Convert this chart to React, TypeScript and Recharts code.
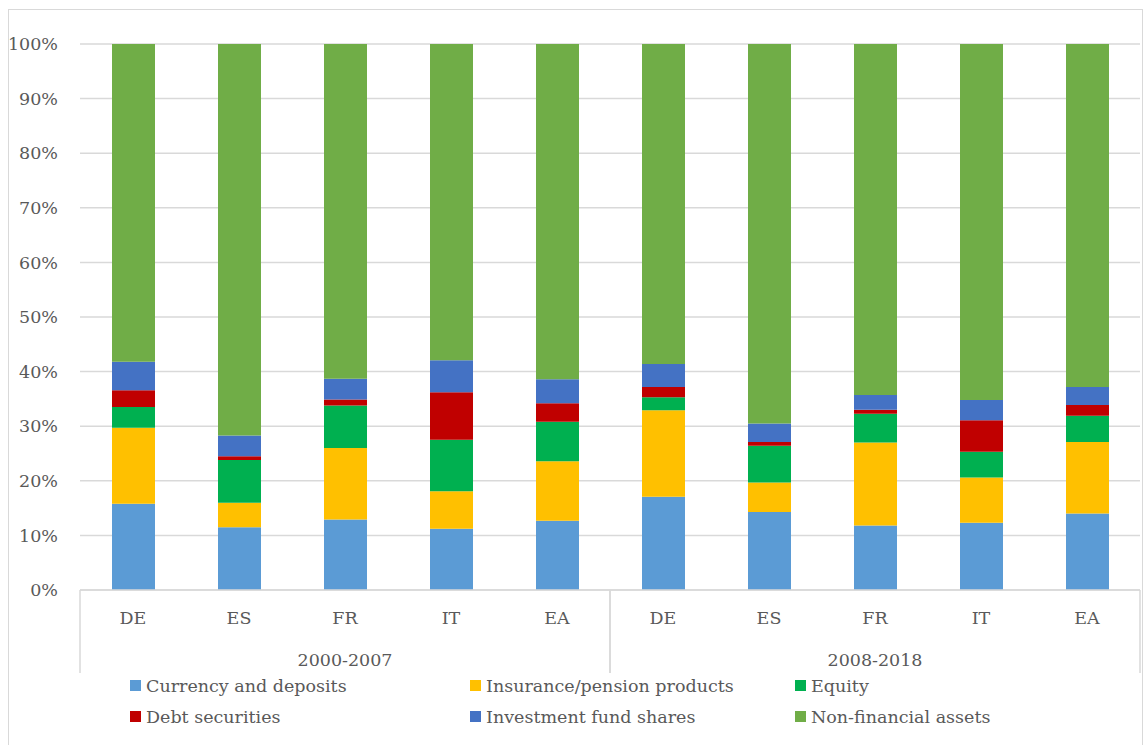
import React from 'react';
import { BarChart, Bar, XAxis, YAxis, CartesianGrid, Legend } from 'recharts';

const categories = ['DE', 'ES', 'FR', 'IT', 'EA', 'DE', 'ES', 'FR', 'IT', 'EA'];
const periods = ['2000-2007', '2008-2018'];
const currencyDeposits = [15.8, 11.5, 12.9, 11.2, 12.7, 17.1, 14.3, 11.8, 12.3, 14.0];
const insurancePension = [13.9, 4.5, 13.1, 6.9, 10.9, 15.8, 5.4, 15.2, 8.3, 13.1];
const equity = [3.8, 7.8, 7.8, 9.4, 7.2, 2.4, 6.7, 5.3, 4.7, 4.8];
const debtSecurities = [3.1, 0.7, 1.1, 8.7, 3.4, 1.9, 0.7, 0.7, 5.8, 2.0];
const investmentFunds = [5.2, 3.8, 3.8, 5.9, 4.4, 4.2, 3.4, 2.7, 3.7, 3.3];
const nonFinancial = [58.2, 71.7, 61.3, 57.9, 61.4, 58.6, 69.5, 64.3, 65.2, 62.8];
const yTicks = [0, 10, 20, 30, 40, 50, 60, 70, 80, 90, 100];

const seriesNames = [
  'Currency and deposits',
  'Insurance/pension products',
  'Equity',
  'Debt securities',
  'Investment fund shares',
  'Non-financial assets',
];
const seriesKeys = ['cd', 'ins', 'eq', 'debt', 'inv', 'nfa'];
const seriesColors = ['#5B9BD5', '#FFC000', '#00B050', '#C00000', '#4472C4', '#70AD47'];

const data = categories.map((c, i) => ({
  key: `${c}-${i}`,
  cd: currencyDeposits[i],
  ins: insurancePension[i],
  eq: equity[i],
  debt: debtSecurities[i],
  inv: investmentFunds[i],
  nfa: nonFinancial[i],
}));

const W = 1145;
const H = 745;
const FONT = '"DejaVu Serif", "Liberation Serif", serif';
const FS = 17.5;
const TEXT = '#595959';
const GRID = '#d9d9d9';
const MARGIN = { top: 44, right: 5, bottom: 0, left: 0 };
const Y_AXIS_W = 80;
const X_AXIS_H = 83;
const LEGEND_H = 72;
const PLOT_W = W - MARGIN.left - MARGIN.right - Y_AXIS_W;
const GROUP = 5;

const CategoryTick = (props: any) => {
  const { x, y, payload } = props;
  const i = payload.index;
  const half = PLOT_W / categories.length / 2;
  const isFirst = i % GROUP === 0;
  const isLast = i % GROUP === GROUP - 1;
  const isMid = i % GROUP === Math.floor(GROUP / 2);
  return (
    <g>
      <text x={x} y={y + 28} textAnchor="middle" dominantBaseline="central" fill={TEXT} fontSize={FS} fontFamily={FONT}>
        {categories[i]}
      </text>
      {isFirst && <line x1={x - half} x2={x - half} y1={y} y2={y + X_AXIS_H} stroke={GRID} strokeWidth={1.5} />}
      {isLast && <line x1={x + half} x2={x + half} y1={y} y2={y + X_AXIS_H} stroke={GRID} strokeWidth={1.5} />}
      {isMid && (
        <text x={x} y={y + 70} textAnchor="middle" dominantBaseline="central" fill={TEXT} fontSize={FS} fontFamily={FONT}>
          {periods[Math.floor(i / GROUP)]}
        </text>
      )}
    </g>
  );
};

const LegendContent = () => (
  <div
    style={{
      display: 'grid',
      gridTemplateColumns: '340px 325px 300px',
      paddingLeft: 130,
      rowGap: 6,
      fontFamily: FONT,
      fontSize: FS,
      color: TEXT,
    }}
  >
    {seriesNames.map((n, i) => (
      <div key={n} style={{ display: 'flex', alignItems: 'center', height: 25, whiteSpace: 'nowrap' }}>
        <span style={{ display: 'inline-block', width: 11, height: 11, background: seriesColors[i], marginRight: 5 }} />
        <span>{n}</span>
      </div>
    ))}
  </div>
);

export default function App() {
  return (
    <div style={{ position: 'absolute', left: 0, top: 0, width: W, height: H, background: '#fff', fontFamily: FONT }}>
      <div
        style={{
          position: 'absolute',
          left: 8,
          top: 9,
          width: 1135,
          height: 745,
          border: `1px solid ${GRID}`,
          boxSizing: 'border-box',
        }}
      />
      <BarChart width={W} height={H} data={data} margin={MARGIN} barSize={43}>
        <CartesianGrid vertical={false} stroke={GRID} strokeWidth={1.5} />
        <XAxis
          dataKey="key"
          interval={0}
          height={X_AXIS_H}
          tickLine={false}
          tickSize={0}
          tickMargin={0}
          axisLine={{ stroke: GRID, strokeWidth: 1.5 }}
          tick={<CategoryTick />}
        />
        <YAxis
          width={Y_AXIS_W}
          domain={[0, 100]}
          ticks={yTicks}
          tickFormatter={(v: number) => `${v}%`}
          axisLine={false}
          tickLine={false}
          tickSize={0}
          tickMargin={22}
          tick={{ fill: TEXT, fontSize: FS, fontFamily: FONT }}
        />
        <Legend verticalAlign="bottom" height={LEGEND_H} content={<LegendContent />} wrapperStyle={{ left: 0, width: W }} />
        {seriesKeys.map((k, i) => (
          <Bar key={k} dataKey={k} name={seriesNames[i]} stackId="a" fill={seriesColors[i]} isAnimationActive={false} />
        ))}
      </BarChart>
    </div>
  );
}
